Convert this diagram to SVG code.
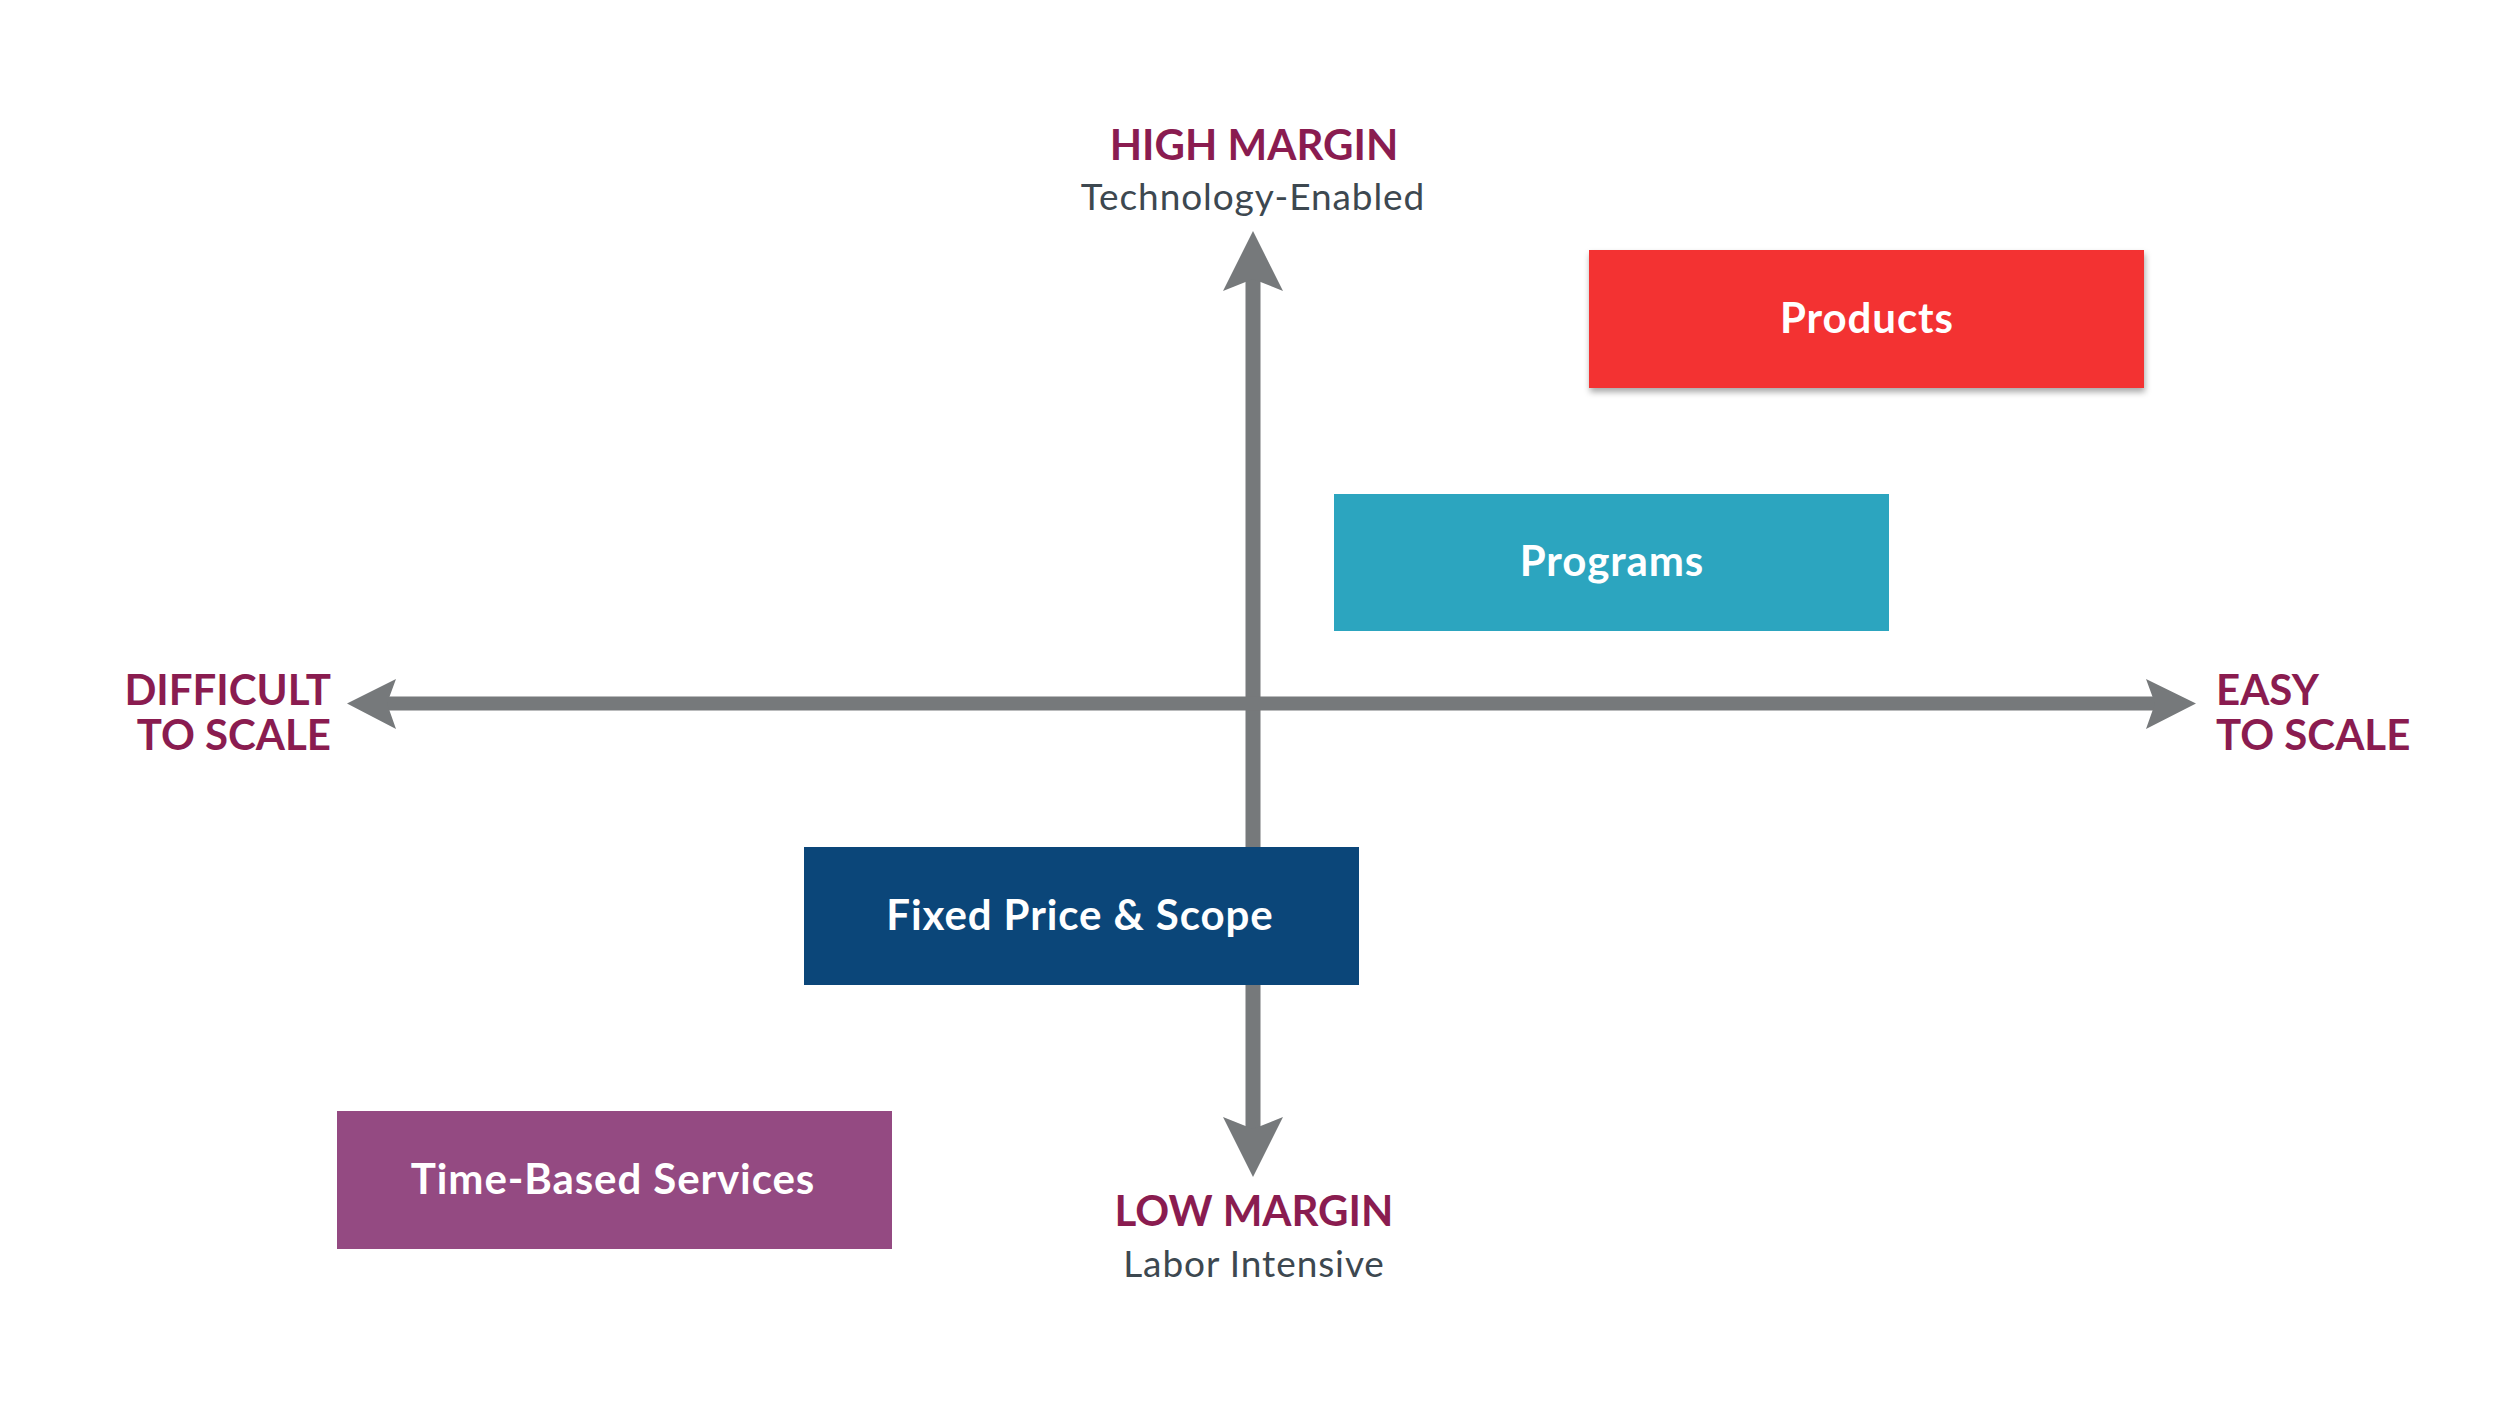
<svg xmlns="http://www.w3.org/2000/svg" width="2500" height="1406" viewBox="0 0 2500 1406">
<style>
.axis{stroke:#76797B;stroke-width:15;fill:none}
.head{fill:#76797B}
.title{font-family:Lato,"Noto Sans",sans-serif;font-weight:700;font-size:42px;fill:#8A1C50}
.sub{font-family:Lato,"Noto Sans",sans-serif;font-weight:400;font-size:37px;letter-spacing:0.9px;fill:#3D4850}
.lbl{font-family:Lato,"Noto Sans",sans-serif;font-weight:700;font-size:42px;letter-spacing:0.9px;fill:#FFFFFF;text-anchor:middle}
</style>
<defs>
<filter id="sh" x="-5%" y="-10%" width="110%" height="130%">
<feDropShadow dx="1" dy="4" stdDeviation="3" flood-color="#000" flood-opacity="0.35"/>
</filter>
</defs>
<rect width="2500" height="1406" fill="#FFFFFF"/>
<g id="connectors">
<line class="axis" x1="1253" y1="270" x2="1253" y2="1140"/>
<line class="axis" x1="385" y1="703.5" x2="2158" y2="703.5" style="stroke-width:14"/>
<path class="head" d="M1253,231 L1283,291 L1253,279 L1223,291 Z"/>
<path class="head" d="M1253,1177 L1283,1117 L1253,1129 L1223,1117 Z"/>
<path class="head" d="M347,703.5 L396,679 L387,703.5 L396,729 Z"/>
<path class="head" d="M2196,703.5 L2146,679 L2155,703.5 L2146,729 Z"/>
</g>
<g id="axis-labels">
<text class="title" x="1254" y="160" text-anchor="middle">HIGH MARGIN</text>
<text class="sub" x="1253" y="210" text-anchor="middle">Technology-Enabled</text>
<text class="title" x="1254" y="1226" text-anchor="middle">LOW MARGIN</text>
<text class="sub" x="1254" y="1277" text-anchor="middle">Labor Intensive</text>
<text class="title" x="331" y="705" text-anchor="end">DIFFICULT</text>
<text class="title" x="331" y="750" text-anchor="end">TO SCALE</text>
<text class="title" x="2216" y="705">EASY</text>
<text class="title" x="2216" y="750">TO SCALE</text>
</g>
<g id="products">
<rect x="1589" y="250" width="555" height="138" fill="#F33233" filter="url(#sh)"/>
<text class="lbl" x="1867" y="333">Products</text>
</g>
<g id="programs">
<rect x="1334" y="494" width="555" height="137" fill="#2CA5BF"/>
<text class="lbl" x="1612" y="576">Programs</text>
</g>
<g id="fixed-price-scope">
<rect x="804" y="847" width="555" height="138" fill="#0B4679"/>
<text class="lbl" x="1080" y="930">Fixed Price &amp; Scope</text>
</g>
<g id="time-based-services">
<rect x="337" y="1111" width="555" height="138" fill="#944A82"/>
<text class="lbl" x="613" y="1194">Time-Based Services</text>
</g>
</svg>
